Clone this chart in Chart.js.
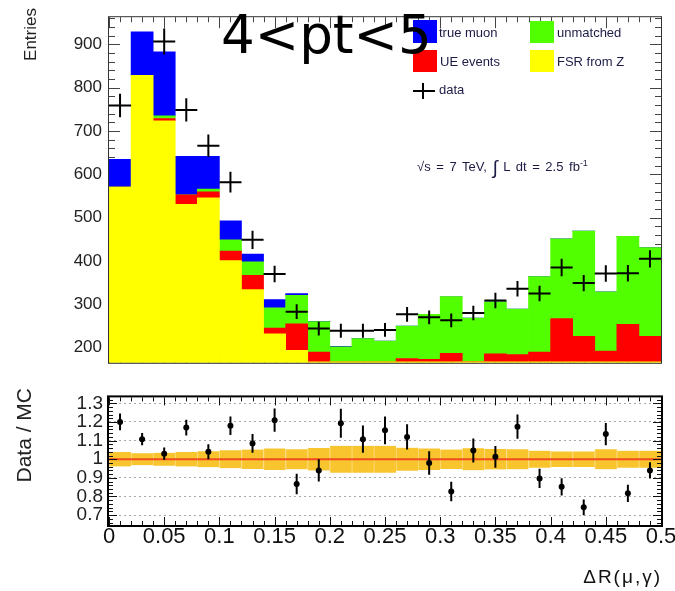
<!DOCTYPE html>
<html><head><meta charset="utf-8">
<script src="https://cdn.jsdelivr.net/npm/chart.js@4.4.0/dist/chart.umd.min.js"></script>
<style>
html,body{margin:0;padding:0;background:#fff;width:675px;height:591px;overflow:hidden;}
#wrap{position:relative;width:675px;height:591px;overflow:hidden;}
#c1{position:absolute;left:0;top:0;}
#c2{position:absolute;left:0;top:380px;}
.t{position:absolute;white-space:nowrap;font-family:'Liberation Sans',Arial,sans-serif;color:#1b1b45;font-size:13px;line-height:13px;}
.box{position:absolute;}
.ytitle{position:absolute;white-space:nowrap;font-family:'Liberation Sans',Arial,sans-serif;color:#222;text-align:right;transform:rotate(-90deg);transform-origin:left top;}
#title{position:absolute;left:221px;top:8px;font-family:'DejaVu Sans',sans-serif;font-size:53px;line-height:53px;color:#000;white-space:nowrap;z-index:5;}
#xtitle{position:absolute;right:13px;top:567px;font-family:'Liberation Sans',Arial,sans-serif;font-size:19px;line-height:19px;letter-spacing:2px;color:#111;white-space:nowrap;}
</style></head>
<body><div id="wrap">
<canvas id="c1" width="675" height="380"></canvas>
<canvas id="c2" width="700" height="211"></canvas>
<div class="box" style="left:413px;top:20px;width:24px;height:23px;background:#0000ff"></div>
<div class="box" style="left:413px;top:50px;width:24px;height:22px;background:#ff0000"></div>
<div class="box" style="left:530px;top:21px;width:24px;height:22px;background:#52ff00"></div>
<div class="box" style="left:530px;top:50px;width:24px;height:22px;background:#ffff00"></div>
<div class="box" style="left:413px;top:90px;width:22px;height:2px;background:#000"></div>
<div class="box" style="left:422px;top:83px;width:2px;height:16px;background:#000"></div>
<div class="t" style="left:439px;top:26px">true muon</div>
<div class="t" style="left:440px;top:55px">UE events</div>
<div class="t" style="left:439px;top:83px">data</div>
<div class="t" style="left:557px;top:26px">unmatched</div>
<div class="t" style="left:557px;top:55px">FSR from Z</div>
<div class="t" style="left:417px;top:160px;word-spacing:2px">√s = 7 TeV, <span style="font-size:19px;vertical-align:-3px">∫</span> L dt = 2.5 fb<sup style="font-size:9px;vertical-align:5px;line-height:0">-1</sup></div>
<div id="title">4&lt;pt&lt;5</div>
<div id="xtitle">ΔR(μ,γ)</div>
<div class="ytitle" style="left:22px;top:128px;width:120px;font-size:17px;line-height:17px;">Entries</div>
<div class="ytitle" style="left:13px;top:538px;width:150px;font-size:21px;line-height:21px;">Data / MC</div>
</div>
<script>
// ---- data ----
const binCenters = [0.01,0.03,0.05,0.07,0.09,0.11,0.13,0.15,0.17,0.19,0.21,0.23,0.25,0.27,0.29,0.31,0.33,0.35,0.37,0.39,0.41,0.43,0.45,0.47,0.49];
const binHalfWidth = 0.01;
const fsrFromZ  = [571,829,724,531,546,401,334,232,194,167,167,167,167,167,167,167,167,167,167,167,167,167,167,167,167];
const ueEvents  = [0,0,5,22,14,22,33,13,61,23,0,0,0,8,6,20,1,19,17,23,100,59,25,87,59];
const unmatched = [0,0,6,0,6,26,31,47,66,70,35,54,48,75,104,131,100,120,105,174,184,243,137,203,205];
const trueMuon  = [64,100,148,89,76,44,18,19,4,1,1,0,0,0,0,0,0,0,0,0,0,0,0,0,0];
const dataCounts = [759,1029,907,749,666,582,449,370,283,244,239,239,241,277,270,263,280,309,336,325,385,349,371,372,405];
const dataErr    = [27,32,30,27,26,24,21,19,17,16,16,16,16,17,16,16,17,18,18,18,20,19,19,19,20];
const ratio    = [1.20,1.108,1.03,1.17,1.04,1.18,1.085,1.21,0.867,0.94,1.193,1.108,1.155,1.12,0.98,0.827,1.047,1.013,1.175,0.897,0.852,0.742,1.135,0.817,0.94];
const ratioErr = [0.045,0.033,0.033,0.042,0.04,0.05,0.05,0.062,0.055,0.06,0.078,0.073,0.075,0.068,0.063,0.052,0.065,0.058,0.065,0.052,0.046,0.042,0.06,0.046,0.044];
const mcBand   = [0.039,0.032,0.035,0.039,0.043,0.048,0.052,0.058,0.054,0.06,0.072,0.072,0.072,0.062,0.058,0.052,0.059,0.055,0.054,0.046,0.042,0.042,0.054,0.046,0.046];
const yTicksTop   = [200,300,400,500,600,700,800,900];
const yTicksRatio = [0.7,0.8,0.9,1.0,1.1,1.2,1.3];
const xTicks      = [0,0.05,0.1,0.15,0.2,0.25,0.3,0.35,0.4,0.45,0.5];
const xTickLabels = ['0','0.05','0.1','0.15','0.2','0.25','0.3','0.35','0.4','0.45','0.5'];

Chart.defaults.font.family = "'Liberation Sans', Arial, sans-serif";
Chart.defaults.color = '#111';
Chart.defaults.animation = false;

const binLabels = binCenters.map(String);

// ROOT-like frame with inside tick marks
const rootFrame = {
  id: 'rootFrame',
  drawTicks(chart, o) {
    const {ctx, chartArea: a} = chart;
    const xs = chart.scales[o.xScale], ys = chart.scales[o.yScale];
    ctx.save();
    ctx.strokeStyle = o.tickColor; ctx.lineWidth = 1;
    ctx.beginPath();
    for (let k = 0; k <= 50; k++) {
      const v = k * 0.01;
      const px = Math.round(xs.getPixelForValue(v)) + 0.5;
      const L = (k % 5 === 0) ? o.xMaj : o.xMin;
      ctx.moveTo(px, a.top); ctx.lineTo(px, a.top + L);
      ctx.moveTo(px, a.bottom); ctx.lineTo(px, a.bottom - L);
    }
    const k0 = Math.ceil(ys.min / o.yMinor - 1e-6), k1 = Math.floor(ys.max / o.yMinor + 1e-6);
    const per = Math.round(o.yMajor / o.yMinor);
    for (let k = k0; k <= k1; k++) {
      const v = k * o.yMinor;
      const py = Math.round(ys.getPixelForValue(v)) + 0.5;
      const L = (k % per === 0) ? o.yMaj : o.yMin;
      ctx.moveTo(a.left, py); ctx.lineTo(a.left + L, py);
      ctx.moveTo(a.right, py); ctx.lineTo(a.right - L, py);
    }
    ctx.stroke();
    ctx.restore();
  },
  beforeDatasetsDraw(chart, args, o) { if (!o.ticksOnTop) this.drawTicks(chart, o); },
  afterDatasetsDraw(chart, args, o) {
    if (o.ticksOnTop) this.drawTicks(chart, o);
    const {ctx, chartArea: a} = chart;
    ctx.save();
    ctx.strokeStyle = o.frameColor; ctx.lineWidth = o.frameWidth;
    const h = o.frameWidth / 2;
    ctx.strokeRect(a.left - h, a.top - h, a.right - a.left + o.frameWidth, a.bottom - a.top + o.frameWidth);
    ctx.restore();
  }
};

// cross segments (horizontal bin width + vertical error)
const crossPts = [];
binCenters.forEach((c, i) => {
  crossPts.push({x: c - binHalfWidth, y: dataCounts[i]}, {x: c + binHalfWidth, y: dataCounts[i]}, {x: c, y: null});
  crossPts.push({x: c, y: dataCounts[i] - dataErr[i]}, {x: c, y: dataCounts[i] + dataErr[i]}, {x: c, y: null});
});

new Chart(document.getElementById('c1'), {
  type: 'bar',
  data: {
    labels: binLabels,
    datasets: [
      {label: 'FSR from Z', data: fsrFromZ, backgroundColor: '#ffff00'},
      {label: 'UE events', data: ueEvents, backgroundColor: '#ff0000'},
      {label: 'unmatched', data: unmatched, backgroundColor: '#52ff00'},
      {label: 'true muon', data: trueMuon, backgroundColor: '#0000ff'},
      {type: 'line', label: 'data', data: crossPts, xAxisID: 'xl', yAxisID: 'yl', order: -1,
       borderColor: '#000', borderWidth: 2, pointRadius: 0, spanGaps: false, fill: false, tension: 0}
    ]
  },
  options: {
    responsive: false,
    layout: {padding: {left: 0, right: 14, top: 9, bottom: 6}},
    datasets: {bar: {barPercentage: 1, categoryPercentage: 1, borderWidth: 0, grouped: false}},
    plugins: {
      legend: {display: false}, tooltip: {enabled: false},
      rootFrame: {xScale: 'xl', yScale: 'y', xMaj: 11, xMin: 5, yMajor: 100, yMinor: 20, yMaj: 11, yMin: 6,
                  tickColor: '#444', frameColor: '#333', frameWidth: 1, ticksOnTop: false}
    },
    scales: {
      x: {type: 'category', stacked: true, display: false, offset: true},
      xl: {type: 'linear', min: 0, max: 0.5, display: false, offset: false},
      y: {type: 'linear', stacked: true, min: 165, max: 963, position: 'left',
          afterFit(s) { s.width = 109; },
          afterBuildTicks(s) { s.ticks = yTicksTop.map(v => ({value: v})); },
          grid: {display: false, drawTicks: false}, border: {display: false},
          ticks: {padding: 7, color: '#222', font: {size: 17}, autoSkip: false, callback: v => String(v)}
      },
      yl: {type: 'linear', min: 165, max: 963, display: false}
    }
  },
  plugins: [rootFrame]
});

// ratio panel
const errPts = [];
binCenters.forEach((c, i) => {
  errPts.push({x: c, y: ratio[i] - ratioErr[i]}, {x: c, y: ratio[i] + ratioErr[i]}, {x: c, y: null});
});
const ratioPts = binCenters.map((c, i) => ({x: c, y: ratio[i]}));
const bandData = mcBand.map(e => [1 - e, 1 + e]);

new Chart(document.getElementById('c2'), {
  type: 'bar',
  data: {
    labels: binLabels,
    datasets: [
      {label: 'MC unc.', data: bandData, backgroundColor: '#f9c52e', borderColor: '#fbdc7c',
       borderWidth: {left: 1, right: 0, top: 0, bottom: 0}, borderSkipped: false, order: 3},
      {type: 'line', label: 'unity', data: [{x: 0, y: 1}, {x: 0.5, y: 1}], xAxisID: 'xl', order: 2,
       borderColor: '#f04a1e', borderWidth: 2, pointRadius: 0},
      {type: 'line', label: 'err', data: errPts, xAxisID: 'xl', order: 1,
       borderColor: '#000', borderWidth: 2, pointRadius: 0, spanGaps: false},
      {type: 'scatter', label: 'Data / MC', data: ratioPts, xAxisID: 'xl', order: 0,
       pointRadius: 3, backgroundColor: '#000', borderWidth: 0}
    ]
  },
  options: {
    responsive: false,
    layout: {padding: {left: 0, right: 39, top: 8, bottom: 0}},
    datasets: {bar: {barPercentage: 1, categoryPercentage: 1, grouped: false}},
    plugins: {
      legend: {display: false}, tooltip: {enabled: false},
      rootFrame: {xScale: 'xl', yScale: 'y', xMaj: 8, xMin: 4, yMajor: 0.1, yMinor: 0.02, yMaj: 8, yMin: 4,
                  tickColor: '#111', frameColor: '#000', frameWidth: 2, ticksOnTop: true}
    },
    scales: {
      x: {type: 'category', display: false, offset: true},
      xl: {type: 'linear', min: 0, max: 0.5, position: 'bottom', offset: false,
           afterFit(s) { s.height = 66; },
           afterBuildTicks(s) { s.ticks = xTicks.map(v => ({value: v})); },
           grid: {display: false, drawTicks: false, offset: false}, border: {display: false},
           ticks: {padding: -1, autoSkip: false, maxRotation: 0, color: '#111', font: {size: 22},
                   callback: (v, i) => xTickLabels[i]}
      },
      y: {type: 'linear', min: 0.647, max: 1.332, position: 'left',
          afterFit(s) { s.width = 109; },
          afterBuildTicks(s) { s.ticks = yTicksRatio.map(v => ({value: v})); },
          grid: {display: true, drawTicks: false, color: '#a8a8a8', lineWidth: 1},
          border: {display: false, dash: [2, 3]},
          ticks: {padding: 6, color: '#222', font: {size: 19}, autoSkip: false,
                  callback: v => String(Math.round(v * 10) / 10)}
      }
    }
  },
  plugins: [rootFrame]
});
</script>
</body></html>
